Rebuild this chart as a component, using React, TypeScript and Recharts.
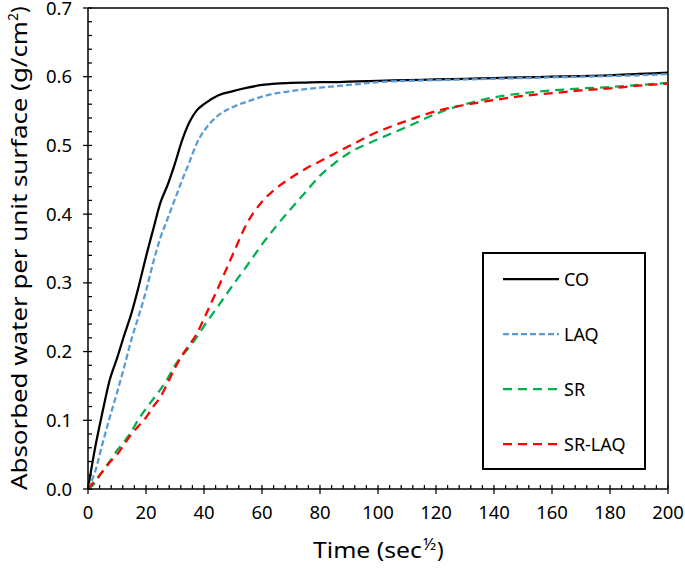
import React from "react";
import { LineChart, Line, XAxis, YAxis, Legend, ReferenceLine } from "recharts";

const times = [
  0, 2.5, 5, 7.5, 10, 12.5, 15, 17.5, 20, 22.5, 25, 27.5, 30, 32.5, 35, 37.5, 40,
  45, 50, 55, 60, 65, 70, 75, 80, 85, 90,
  100, 110, 120, 130, 140, 150, 160, 170, 180, 190, 200,
];

const co = [
  0, 0.061, 0.112, 0.159, 0.19, 0.224, 0.256, 0.295, 0.338, 0.378, 0.417, 0.443, 0.474, 0.508, 0.534, 0.551, 0.56,
  0.573, 0.579, 0.584, 0.588, 0.59, 0.591, 0.5915, 0.592, 0.592, 0.593,
  0.594, 0.595, 0.596, 0.597, 0.598, 0.599, 0.6, 0.601, 0.602, 0.604, 0.606,
];

const laq = [
  0, 0.026, 0.066, 0.104, 0.14, 0.178, 0.218, 0.252, 0.288, 0.33, 0.366, 0.394, 0.422, 0.45, 0.476, 0.503, 0.521,
  0.544, 0.556, 0.564, 0.571, 0.576, 0.579, 0.582, 0.584, 0.586, 0.588,
  0.592, 0.594, 0.595, 0.596, 0.597, 0.598, 0.599, 0.6, 0.601, 0.602, 0.604,
];

const sr = [
  0, 0.009, 0.026, 0.04, 0.056, 0.069, 0.084, 0.102, 0.117, 0.131, 0.145, 0.161, 0.18, 0.194, 0.207, 0.221, 0.237,
  0.267, 0.297, 0.326, 0.356, 0.383, 0.408, 0.432, 0.456, 0.474, 0.489,
  0.509, 0.527, 0.546, 0.56, 0.57, 0.576, 0.58, 0.583, 0.585, 0.588, 0.591,
];

const srLaq = [
  0, 0.013, 0.025, 0.039, 0.05, 0.065, 0.08, 0.092, 0.104, 0.12, 0.134, 0.155, 0.176, 0.195, 0.21, 0.226, 0.248,
  0.294, 0.342, 0.388, 0.418, 0.438, 0.453, 0.466, 0.477, 0.488, 0.499,
  0.52, 0.536, 0.55, 0.559, 0.566, 0.572, 0.576, 0.58, 0.583, 0.587, 0.59,
];

// every 4 units on x, majors every 20; every 0.02 on y, majors every 0.1
const xTicks = Array.from({ length: 51 }, (_, i) => i * 4);
const yTicks = Array.from({ length: 36 }, (_, i) => (i * 2) / 100);

const series = [
  { key: "co", name: "CO", color: "#000000", dash: undefined as string | undefined },
  { key: "laq", name: "LAQ", color: "#5B9BD5", dash: "6 3" },
  { key: "sr", name: "SR", color: "#00B050", dash: "9 6" },
  { key: "srLaq", name: "SR-LAQ", color: "#FF0000", dash: "9 6" },
];

const data = times.map((t, i) => ({
  t,
  co: co[i],
  laq: laq[i],
  sr: sr[i],
  srLaq: srLaq[i],
}));

const FONT = "'Noto Sans', 'Open Sans', sans-serif";

// tickSize 5 + tickMargin 6 / 11 puts the tick label this far from the axis line
const XTick = (props: any) => {
  const { x, y, payload } = props;
  const v = payload.value;
  const axisY = y - 11;
  const major = v % 20 === 0;
  return (
    <g>
      <line x1={x} x2={x} y1={axisY - 4} y2={major ? axisY + 5 : axisY} stroke="#000" strokeWidth={1.25} />
      {major && (
        <text x={x} y={axisY + 30} textAnchor="middle" fontSize={18.5} fontFamily={FONT} fill="#000">
          {v}
        </text>
      )}
    </g>
  );
};

const YTick = (props: any) => {
  const { x, y, payload } = props;
  const v = payload.value;
  const axisX = x + 16;
  const major = Math.round(v * 100) % 10 === 0;
  return (
    <g>
      <line x1={major ? axisX - 5 : axisX} x2={axisX + 4} y1={y} y2={y} stroke="#000" strokeWidth={1.25} />
      {major && (
        <text x={axisX - 16} y={y + 6.5} textAnchor="end" fontSize={18.5} fontFamily={FONT} fill="#000">
          {v.toFixed(1)}
        </text>
      )}
    </g>
  );
};

const YTitle = () => (
  <text transform="translate(27,490) rotate(-90)" fontSize={22} fontFamily={FONT} fill="#000">
    <tspan x={0} y={0} textLength={469} lengthAdjust="spacingAndGlyphs">
      Absorbed water per unit surface (g/cm
    </tspan>
    <tspan dy={-9} fontSize={14}>2</tspan>
    <tspan dy={9}>)</tspan>
  </text>
);

const XTitle = () => (
  <text fontSize={22} fontFamily={FONT} fill="#000">
    <tspan x={313} y={558} textLength={109} lengthAdjust="spacingAndGlyphs">
      Time (sec
    </tspan>
    <tspan dx={1} dy={-8} fontSize={17}>½</tspan>
    <tspan dx={1} dy={8}>)</tspan>
  </text>
);

const LegendBox = () => (
  <div
    style={{
      width: 164,
      height: 218,
      boxSizing: "border-box",
      border: "2px solid #000",
      background: "#fff",
      fontFamily: FONT,
      fontSize: 18,
      overflow: "hidden",
    }}
  >
    <div style={{ marginTop: -3 }}>
      {series.map((s) => (
        <div key={s.key} style={{ display: "flex", alignItems: "center", height: 55, lineHeight: "20px" }}>
          <svg width={80} height={20} style={{ display: "block" }}>
            <line x1={19} x2={75} y1={10} y2={10} stroke={s.color} strokeWidth={2.25} strokeDasharray={s.dash} />
          </svg>
          <span>{s.name}</span>
        </div>
      ))}
    </div>
  </div>
);

export default function App() {
  return (
    <div style={{ position: "absolute", left: 0, top: 0, background: "#fff" }}>
      <LineChart width={685} height={569} data={data} margin={{ top: 8, right: 17, bottom: 0, left: 0 }}>
        <XAxis
          xAxisId="x"
          dataKey="t"
          type="number"
          domain={[0, 200]}
          ticks={xTicks}
          interval={0}
          height={80}
          tickSize={5}
          tickMargin={6}
          axisLine={{ stroke: "#000", strokeWidth: 1.5 }}
          tickLine={{ stroke: "none" }}
          tick={<XTick />}
          label={<XTitle />}
        />
        <YAxis
          yAxisId="y"
          type="number"
          domain={[0, 0.7]}
          ticks={yTicks}
          interval={0}
          width={88}
          tickSize={5}
          tickMargin={11}
          axisLine={{ stroke: "#000", strokeWidth: 1.5 }}
          tickLine={{ stroke: "none" }}
          tick={<YTick />}
          label={<YTitle />}
        />
        <ReferenceLine xAxisId="x" yAxisId="y" y={0.7} stroke="#000" strokeWidth={1.5} />
        <ReferenceLine xAxisId="x" yAxisId="y" x={200} stroke="#000" strokeWidth={1.5} />
        {series.map((s) => (
          <Line
            key={s.key}
            xAxisId="x"
            yAxisId="y"
            type="monotone"
            dataKey={s.key}
            name={s.name}
            stroke={s.color}
            strokeWidth={2.25}
            strokeDasharray={s.dash}
            dot={false}
            activeDot={false}
            isAnimationActive={false}
          />
        ))}
        <Legend
          layout="vertical"
          align="center"
          verticalAlign="middle"
          content={<LegendBox />}
          wrapperStyle={{ position: "absolute", left: 482, top: 252, width: 164, height: 218 }}
        />
      </LineChart>
    </div>
  );
}
